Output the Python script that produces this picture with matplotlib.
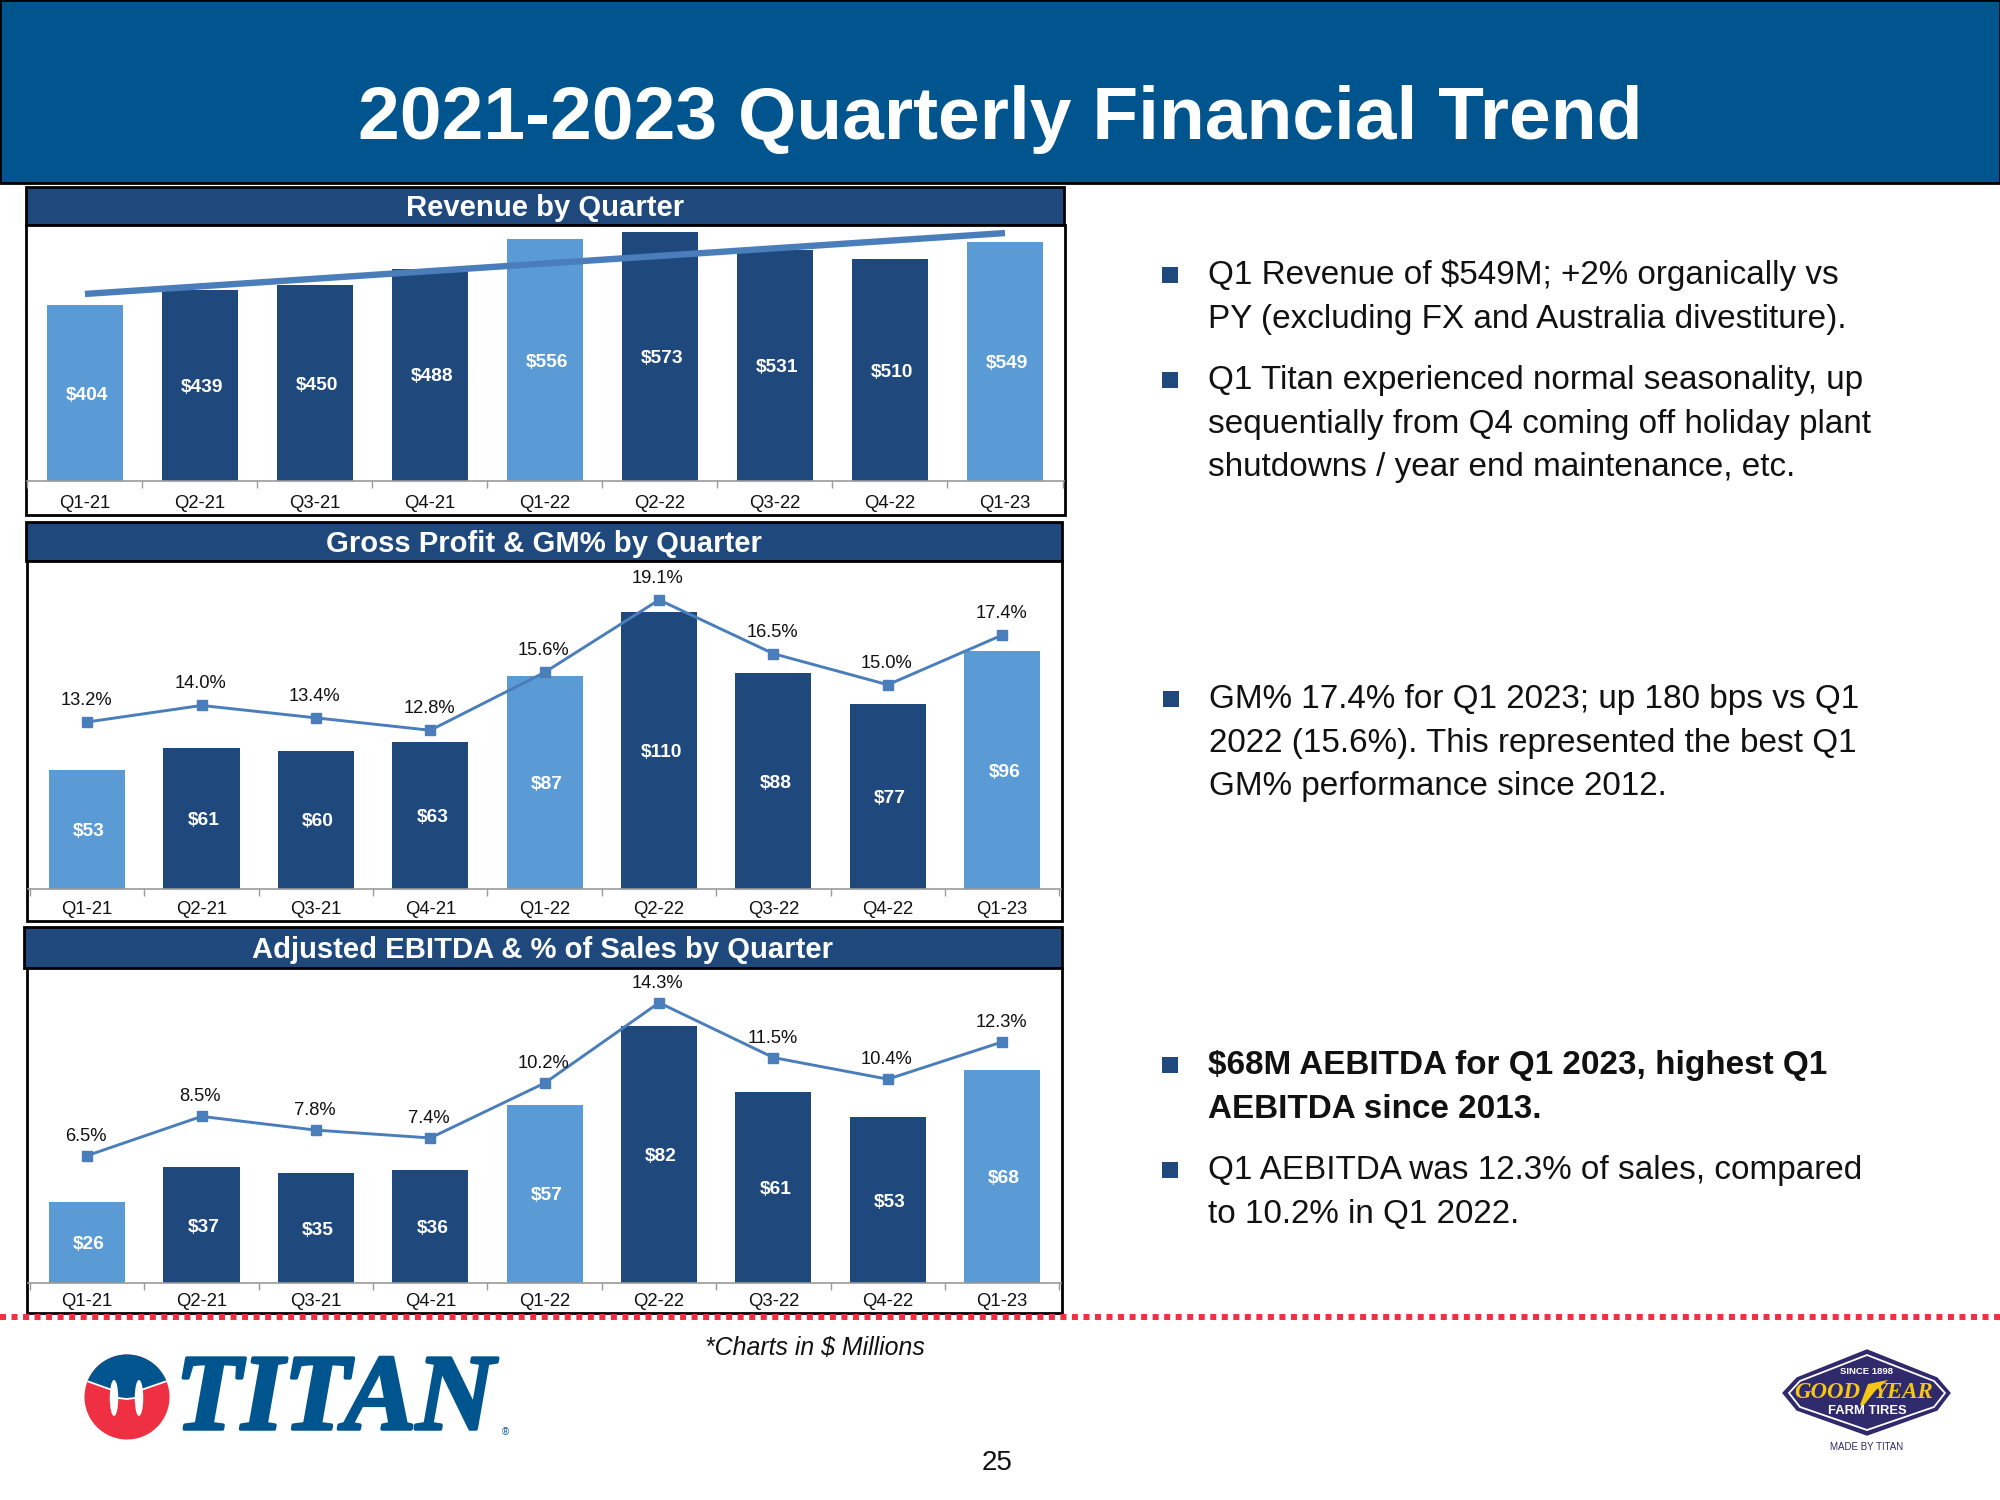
"""2021-2023 quarterly financial trend slide: three bar panels plus commentary
"""
import matplotlib

matplotlib.use("Agg")
import matplotlib.patheffects as pe
import matplotlib.pyplot as plt
from matplotlib.patches import Circle, Ellipse, Polygon, Rectangle

plt.rcParams["font.family"] = ["Liberation Sans", "DejaVu Sans"]

quarters = ["Q1-21", "Q2-21", "Q3-21", "Q4-21", "Q1-22", "Q2-22", "Q3-22", "Q4-22", "Q1-23"]
revenue = [404, 439, 450, 488, 556, 573, 531, 510, 549]
revenue_trend = [430, 570]
gross_profit = [53, 61, 60, 63, 87, 110, 88, 77, 96]
gm_pct = [13.2, 14.0, 13.4, 12.8, 15.6, 19.1, 16.5, 15.0, 17.4]
ebitda = [26, 37, 35, 36, 57, 82, 61, 53, 68]
ebitda_pct = [6.5, 8.5, 7.8, 7.4, 10.2, 14.3, 11.5, 10.4, 12.3]

LIGHT = "#5B9BD5"
DARK = "#1F497D"
LINE = "#4A7EBB"
HEADER = "#01558F"
RED = "#EE3042"
NAVY = "#2E2A6B"
GOLD = "#F5C518"
W, H = 2000, 1500

# Q1 quarters are the light bars
bar_colors = [LIGHT if q.startswith("Q1") else DARK for q in quarters]

fig = plt.figure(figsize=(20, 15), dpi=100, facecolor="white")
# page layer in pixel coordinates, y pointing down
page = fig.add_axes([0, 0, 1, 1], zorder=0)
page.set_xlim(0, W)
page.set_ylim(H, 0)
page.axis("off")


def pixel_axes(left, top, right, bottom, zorder=2):
    return fig.add_axes(
        [left / W, 1 - bottom / H, (right - left) / W, (bottom - top) / H], zorder=zorder
    )


def title_bar(left, top, right, bottom, text):
    page.add_patch(Rectangle((left, top), right - left, bottom - top, fc=DARK, ec="black", lw=2))
    page.text((left + right) / 2, (top + bottom) / 2 + 2, text, color="white", fontsize=21.1,
              fontweight="bold", ha="center", va="center")


def bar_panel(box, base, xlim, bars, ymin, px_per, pct=None, pct_base=None, pct_px=None, label_off=15):
    left, top, right, bottom = box
    page.add_patch(Rectangle((left, top), right - left, bottom - top, fc="white", ec="black", lw=2))
    ax = pixel_axes(left + 1, top + 1, right - 1, base)
    ax.patch.set_alpha(0)
    ax.set_xlim(*xlim)
    ax.set_ylim(ymin, ymin + (base - top - 1) / px_per)
    rects = ax.bar(range(len(bars)), bars, width=0.665, color=bar_colors)
    for r, v in zip(rects, bars):
        ax.annotate(f"${v}", (r.get_x() + r.get_width() / 2, (ymin + v) / 2), xytext=(1.5, -1.5),
                    textcoords="offset points", ha="center", va="center", color="white",
                    fontsize=13.8, fontweight="bold")
    for side in ["top", "left", "right"]:
        ax.spines[side].set_visible(False)
    ax.spines["bottom"].set_color("#9A9A9A")
    ax.spines["bottom"].set_linewidth(1.2)
    ax.set_yticks([])
    ax.set_xticks(range(len(bars)))
    ax.set_xticklabels(quarters, fontsize=13.3, color="#111111")
    ax.tick_params(axis="x", length=0, pad=(bottom - base - 36) * 0.72 + 11.5)
    ax.set_xticks([i - 0.5 for i in range(len(bars) + 1)], minor=True)
    ax.tick_params(axis="x", which="minor", length=5, width=1, color="#9A9A9A")
    if pct is not None:
        ax2 = ax.twinx()
        ax2.patch.set_alpha(0)
        ax2.axis("off")
        # pct_base is the percent value that sits on the bar baseline
        ax2.set_ylim(pct_base, pct_base + (base - top - 1) / pct_px)
        ax2.plot(range(len(pct)), pct, color=LINE, lw=2.1, marker="s", ms=7.3, clip_on=False)
        for i, v in enumerate(pct):
            ax2.annotate(f"{v:.1f}%", (i - 0.01, v), xytext=(0, label_off), textcoords="offset points",
                         ha="center", va="center", fontsize=13.2, color="#111111",
                         annotation_clip=False)
    return ax


# header
page.add_patch(Rectangle((0, 0), W, 183, fc=HEADER, ec="black", lw=2))
page.text(1000, 120, "2021-2023 Quarterly Financial Trend", color="white", fontsize=54,
          fontweight="bold", ha="center", va="center")

# revenue panel
title_bar(26, 187, 1064, 225, "Revenue by Quarter")
ax1 = bar_panel((26, 225, 1065, 515), 481, (-0.504, 8.513), revenue, 0, 0.435)
ax1.plot([0, 8], revenue_trend, color=LINE, lw=4.6, solid_capstyle="butt")

# gross profit panel
title_bar(26, 522, 1062, 561, "Gross Profit & GM% by Quarter")
bar_panel((27, 561, 1062, 921), 889, (-0.517, 8.514), gross_profit, 10.1, 2.77,
          gm_pct, 13.2 - (889 - 722) / 20.7, 20.7, label_off=15.5)

# ebitda panel
title_bar(24, 927, 1062, 968, "Adjusted EBITDA & % of Sales by Quarter")
bar_panel((27, 968, 1062, 1313), 1283, (-0.517, 8.514), ebitda, 0, 3.13,
          ebitda_pct, 6.5 - (1283 - 1155.6) / 19.6, 19.6, label_off=14)

# red dotted divider
page.plot([0, W], [1317, 1317], color=RED, lw=4.3, dashes=(1.0, 0.93), dash_capstyle="butt", zorder=5)

# commentary
bullets = [
    (1208, 275.5, ["Q1 Revenue of $549M; +2% organically vs",
                   "PY (excluding FX and Australia divestiture)."], "normal"),
    (1208, 380.5, ["Q1 Titan experienced normal seasonality, up",
                   "sequentially from Q4 coming off holiday plant",
                   "shutdowns / year end maintenance, etc."], "normal"),
    (1209, 699.5, ["GM% 17.4% for Q1 2023; up 180 bps vs Q1",
                   "2022 (15.6%). This represented the best Q1",
                   "GM% performance since 2012."], "normal"),
    (1208, 1065.5, ["$68M AEBITDA for Q1 2023, highest Q1",
                    "AEBITDA since 2013."], "bold"),
    (1208, 1170.5, ["Q1 AEBITDA was 12.3% of sales, compared",
                    "to 10.2% in Q1 2022."], "normal"),
]
for x, y, lines, weight in bullets:
    page.add_patch(Rectangle((x - 46, y - 8.5), 16, 16, fc=DARK, ec="none"))
    for i, line in enumerate(lines):
        page.text(x, y + i * 43.6, line, fontsize=23.97, fontweight=weight, color="#111111",
                  ha="left", va="center")

page.text(815, 1348, "*Charts in $ Millions", fontsize=17.9, style="italic", color="#111111",
          ha="center", va="center")
page.text(997, 1463, "25", fontsize=20, color="#111111", ha="center", va="center")

# titan logo
disc = Circle((127, 1397), 42.5, fc=RED, ec="none")
page.add_patch(disc)
cap = Polygon([(84, 1380), (112, 1390), (118, 1398), (127, 1399), (135, 1398), (141, 1390), (170, 1380),
               (170, 1350), (84, 1350)], fc=HEADER, ec="white", lw=1.3)
page.add_patch(cap)
cap.set_clip_path(disc)
page.add_patch(Ellipse((114, 1398), 8.5, 36, fc="white", ec="none"))
page.add_patch(Ellipse((139, 1398), 8.5, 36, fc="white", ec="none"))
page.text(335, 1403, "TITAN", family="Liberation Serif", fontsize=78, fontweight="bold", style="italic",
          color=HEADER, ha="center", va="center",
          path_effects=[pe.withStroke(linewidth=2.5, foreground=HEADER)])
page.text(505, 1432, "®", fontsize=7, color=HEADER, ha="center", va="center")

# goodyear logo
page.add_patch(Polygon([(1867, 1350), (1937, 1378), (1950, 1393), (1937, 1410), (1867, 1435), (1797, 1410),
                        (1783, 1393), (1797, 1378)], fc=NAVY, ec=NAVY, lw=1))
page.add_patch(Polygon([(1867, 1355), (1934, 1381), (1945, 1393), (1934, 1407), (1867, 1430), (1800, 1407),
                        (1789, 1393), (1800, 1381)], fc="none", ec="white", lw=1.3))
page.text(1867, 1371, "SINCE 1898", fontsize=6.8, fontweight="bold", color="white", ha="center", va="center")
page.text(1860, 1393, "GOOD", family="Liberation Serif", fontsize=16.5, fontweight="bold", style="italic",
          color=GOLD, ha="right", va="center")
page.text(1874, 1393, "YEAR", family="Liberation Serif", fontsize=16.5, fontweight="bold", style="italic",
          color=GOLD, ha="left", va="center")
page.add_patch(Polygon([(1860, 1405), (1868, 1384), (1888, 1380), (1876, 1390), (1864, 1405)], fc=GOLD, ec="none"))
page.text(1867, 1411, "FARM TIRES", fontsize=9.4, fontweight="bold", color="white", ha="center", va="center")
page.text(1867, 1447, "MADE BY TITAN", fontsize=7, color=NAVY, ha="center", va="center")

fig.savefig("out.png", dpi=100)
